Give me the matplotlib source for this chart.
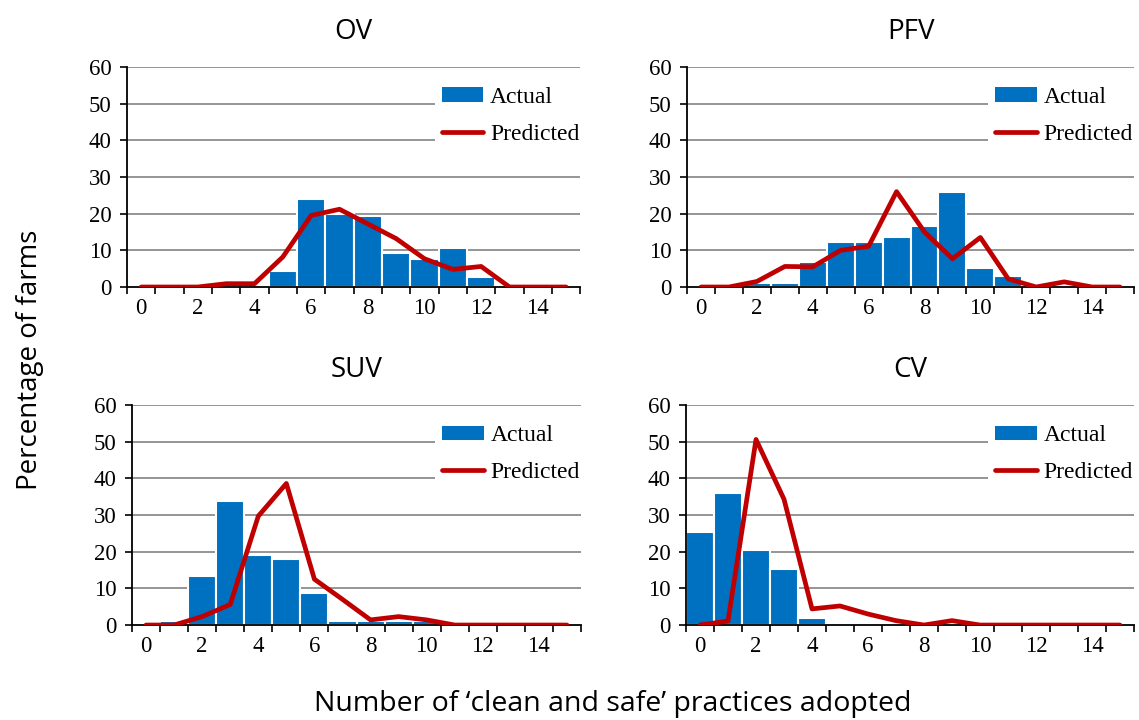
import numpy as np
import matplotlib
matplotlib.use("Agg")
import matplotlib.pyplot as plt
from matplotlib.patches import Patch
from matplotlib.lines import Line2D

practices = list(range(16))

ov_actual = [0, 0, 0, 0.5, 0.5, 4.4, 23.9, 20.0, 19.3, 9.3, 7.5, 10.5, 2.7, 0.5, 0, 0]
ov_pred = [0, 0, 0, 0.9, 0.9, 8.2, 19.5, 21.2, 17.2, 13.2, 7.7, 4.8, 5.6, 0, 0, 0]

pfv_actual = [0, 0, 1.1, 1.1, 6.7, 12.2, 12.2, 13.5, 16.6, 26.0, 5.3, 3.1, 0.3, 0, 0, 0]
pfv_pred = [0, 0, 1.5, 5.6, 5.5, 10.0, 11.1, 26.0, 15.0, 7.7, 13.5, 2.2, 0, 1.4, 0, 0]

suv_actual = [0, 1.0, 13.5, 33.8, 19.1, 17.9, 8.8, 1.0, 1.0, 1.0, 1.0, 0, 0, 0, 0, 0]
suv_pred = [0, 0, 2.3, 5.6, 29.7, 38.6, 12.5, 7.0, 1.4, 2.3, 1.4, 0, 0, 0, 0, 0]

cv_actual = [25.5, 36.1, 20.4, 15.3, 1.9, 0, 0, 0, 0, 0, 0, 0, 0, 0, 0, 0]
cv_pred = [0, 1.1, 50.6, 34.3, 4.4, 5.2, 3.0, 1.2, 0, 1.2, 0, 0, 0, 0, 0, 0]

panels = [
    ("OV", ov_actual, ov_pred, [0.1115, 0.6014, 0.398, 0.3056]),
    ("PFV", pfv_actual, pfv_pred, [0.6032, 0.6014, 0.3924, 0.3056]),
    ("SUV", suv_actual, suv_pred, [0.1159, 0.1319, 0.3942, 0.3056]),
    ("CV", cv_actual, cv_pred, [0.6023, 0.1319, 0.3933, 0.3056]),
]

BLUE = "#0070C0"
RED = "#C00000"
SANS = ["Open Sans", "DejaVu Sans"]
SERIF = ["Liberation Serif", "DejaVu Serif"]

fig = plt.figure(figsize=(11.39, 7.2), dpi=100)

for name, actual, pred, rect in panels:
    ax = fig.add_axes(rect)
    ax.set_axisbelow(True)
    ax.yaxis.grid(True, color="#8c8c8c", linewidth=1.3)
    ax.bar(practices, actual, width=1.0, color=BLUE, edgecolor="white", linewidth=1.5, zorder=2)
    ax.plot(practices, pred, color=RED, linewidth=3.4, solid_capstyle="round", zorder=3)
    ax.set_xlim(-0.5, 15.5)
    ax.set_ylim(0, 60)
    ax.set_yticks(range(0, 61, 10))
    ax.set_xticks(range(0, 15, 2))
    ax.set_xticks(np.arange(-0.5, 16, 1), minor=True)
    ax.tick_params(axis="x", which="major", length=0, pad=8)
    ax.tick_params(axis="x", which="minor", length=5, width=1.2, direction="out")
    ax.tick_params(axis="y", length=5, width=1.2, direction="out", pad=6)
    for lab in ax.get_xticklabels() + ax.get_yticklabels():
        lab.set_fontfamily(SERIF)
        lab.set_fontsize(16.5)
    for s in ["top", "right"]:
        ax.spines[s].set_visible(False)
    ax.spines["left"].set_linewidth(1.3)
    ax.spines["bottom"].set_linewidth(1.3)
    ax.set_title(name, fontfamily=SANS, fontsize=20, pad=20)
    handles = [Patch(facecolor=BLUE, edgecolor="none"),
               Line2D([0], [0], color=RED, linewidth=3.4, solid_capstyle="round")]
    leg = ax.legend(handles, ["Actual", "Predicted"], loc="upper right",
                    bbox_to_anchor=(1.04, 0.995), frameon=True, fancybox=False,
                    edgecolor="none", framealpha=1.0, handlelength=1.75,
                    handleheight=0.55, handletextpad=0.3, labelspacing=0.68,
                    borderpad=0.3, prop={"family": SERIF, "size": 17})
    leg.set_zorder(5)

fig.text(0.026, 0.5, "Percentage of farms", rotation=90, ha="center", va="center",
         fontfamily=SANS, fontsize=20)
fig.text(0.538, 0.022, "Number of \u2018clean and safe\u2019 practices adopted", ha="center",
         va="center", fontfamily=SANS, fontsize=20.5)

fig.savefig("out.png", dpi=100)
